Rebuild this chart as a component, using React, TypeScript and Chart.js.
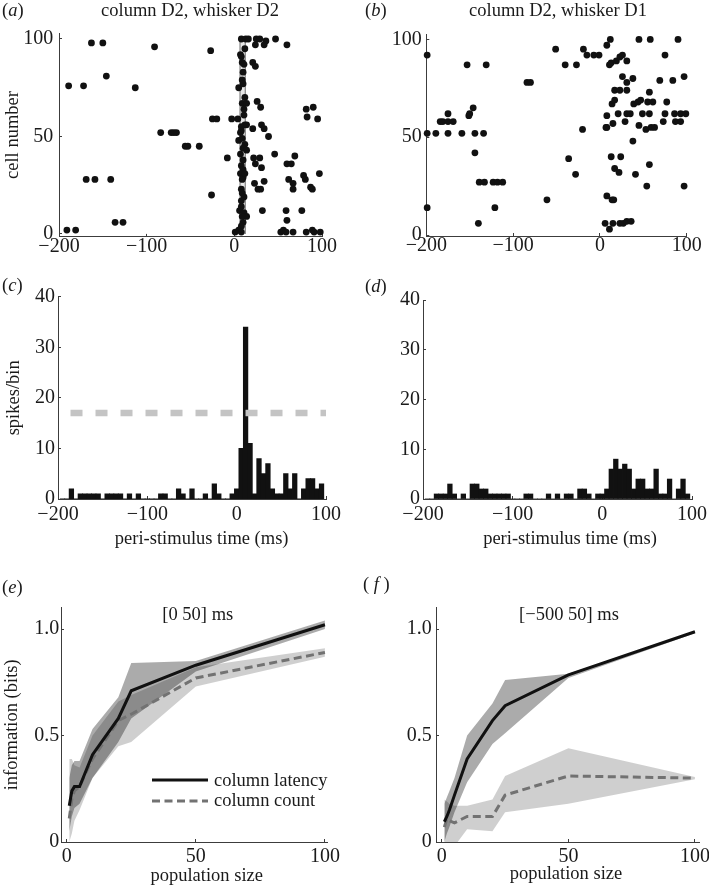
import React, { useEffect, useRef } from 'react';
import { Chart, registerables } from 'chart.js';

Chart.register(...registerables);

const FONT = "'Liberation Serif', 'Times New Roman', Times, serif";
const INK = '#1a1a1a';
const AXIS_COLOR = '#3c3c3c';

// ================= DATA =================
const TIME_TICKS = [-200, -100, 0, 100];
const TIME_TICK_LABELS = ['\u2212200', '\u2212100', '0', '100'];
const CELL_TICKS = [0, 50, 100];
const CELL_TICK_LABELS = ['0', '50', '100'];
const SPIKE_TICKS = [0, 10, 20, 30, 40];
const SPIKE_TICK_LABELS = ['0', '10', '20', '30', '40'];
const POP_TICKS = [0, 50, 100];
const POP_TICK_LABELS = ['0', '50', '100'];
const INFO_TICKS = [0, 0.5, 1.0];
const INFO_TICK_LABELS = ['0', '0.5', '1.0'];

// (a) raster, column D2 / whisker D2: first-spike time (ms) and cell number
const A_SPIKE_TIME = [
  -191, -181, -189, -172, -163, -150, -146, -169, -159, -141, -136, -127, -113, -91, -84, -72, -69, -66,
  -56, -53, -40, -27, -25, -20, -26, -8, -3, 1, 4, 8, 13, 16, 25, 29, 36, 47, 24, 34, 60, 7, 8, 9, 11,
  21, 24, 10, 9, 5, 12, 26, 30, 9, 14, 11, 12, 8, 14, 8, 21, 31, 34, 39, 7, 5, 12, 10, 14, 46, 7, 10, 8,
  22, 29, 24, 31, 10, 60, 65, 69, 7, 10, 9, 79, 81, 97, 62, 67, 34, 23, 27, 30, 67, 87, 89, 8, 9, 8, 8,
  32, 59, 77, 6, 11, 14, 10, 8, 5, 8, 53, 56, 59, 67, 82, 89, 91, 98, 60, 82, 90, 83, 95,
  12, 10, 11, 9, 12, 11, 9,
];
const A_SPIKE_CELL = [
  2, 2, 76, 76, 98, 98, 81, 28, 28, 28, 6, 6, 75, 96, 52, 52, 52, 52,
  45, 45, 45, 94, 59, 59, 20, 39, 59, 1, 59, 100, 100, 100, 100, 100, 99, 100, 97, 97, 97, 92, 91, 88, 87,
  88, 86, 83, 79, 75, 70, 68, 65, 67, 67, 61, 56, 55, 56, 53, 54, 56, 54, 50, 52, 48, 46, 44, 43, 41, 41, 38, 35,
  39, 39, 36, 34, 33, 36, 36, 40, 31, 29, 28, 30, 28, 31, 28, 26, 27, 26, 23, 23, 23, 24, 23, 23, 21, 17, 14,
  12, 12, 12, 12, 11, 9, 6, 4, 2, 1, 1, 2, 1, 1, 1, 2, 1, 1, 7, 64, 65, 60, 59,
  95, 77, 64, 49, 31, 19, 9,
];
// latency window marked on raster (a)
const A_WINDOW_TIME = [6.5, 6.5, 12.5, 12.5];
const A_WINDOW_CELL = [0, 100, 100, 0];

// (b) raster, column D2 / whisker D1
const B_SPIKE_TIME = [
  -199, -199, -199, -189, -184, -181, -175, -175, -175, -169, -159, -153, -151, -150, -146, -144, -144, -140,
  -139, -133, -134, -131, -123, -118, -112, -121, -84, -80, -61, -51, -40, -36, -27, -28, -19, -15, -7, -1, -20,
  12, 45, 58, 90, 8, 11, 13, 19, 23, 26, 31, 75, 26, 31, 38, 69, 84, 97, 17, 23, 31, 57, 14, 17, 39, 44, 47,
  55, 61, 77, 8, 21, 31, 35, 49, 57, 75, 86, 93, 99, 7, 8, 15, 29, 45, 53, 59, 63, 73, 87, 93, 38, 13, 24,
  17, 22, 57, 41, 54, 97, 8, 14, 16, 6, 11, 15, 23, 27, 31, 36,
];
const B_SPIKE_CELL = [
  92, 52, 14, 52, 58, 58, 62, 58, 52, 58, 52, 87, 61, 62, 65, 52, 42, 6,
  27, 27, 52, 87, 27, 27, 27, 14, 78, 78, 18, 95, 87, 39, 87, 31, 95, 92, 92, 92, 54,
  100, 100, 100, 100, 97, 87, 88, 89, 91, 92, 89, 92, 81, 78, 80, 79, 79, 81, 74, 74, 74, 73, 67, 69, 67, 68, 69,
  68, 68, 68, 61, 62, 62, 62, 62, 62, 62, 62, 62, 62, 55, 55, 57, 58, 56, 54, 55, 55, 58, 58, 58, 48, 40, 40,
  34, 32, 36, 31, 25, 25, 20, 18, 18, 6, 3, 6, 6, 6, 7, 7,
];

// (c), (d) peri-stimulus time histograms, 5 ms bins (bin centres in ms)
const PSTH_BIN_CENTRES = [
  -195, -190, -185, -180, -175, -170, -165, -160, -155, -150,
  -145, -140, -135, -130, -125, -120, -115, -110, -105, -100,
  -95, -90, -85, -80, -75, -70, -65, -60, -55, -50,
  -45, -40, -35, -30, -25, -20, -15, -10, -5, 0,
  5, 10, 15, 20, 25, 30, 35, 40, 45, 50,
  55, 60, 65, 70, 75, 80, 85, 90, 95,
];
const PSTH_C = [
  0, 0, 2, 0, 1, 1, 1, 1, 1, 0,
  1, 1, 1, 1, 0, 1, 0, 1, 0, 0,
  0, 0, 1, 1, 0, 0, 2, 1, 0, 2,
  0, 0, 1, 0, 3, 1, 0, 0, 1, 2,
  10, 34, 11, 1, 8, 5, 7, 2, 1, 1,
  5, 2, 5, 0, 2, 4, 4, 2, 3,
];
const PSTH_D = [
  0, 0, 1, 1, 1, 3, 1, 0, 1, 0,
  3, 3, 2, 2, 1, 1, 1, 1, 1, 0,
  0, 0, 1, 1, 0, 0, 0, 1, 0, 1,
  0, 1, 1, 0, 2, 2, 1, 0, 1, 1,
  2, 6, 8, 6, 7, 6, 2, 4, 4, 2,
  2, 6, 1, 1, 4, 0, 2, 4, 1,
];
const C_THRESHOLD = 17;
const C_THRESHOLD_SPAN = [-186, 100];

// (e), (f) information vs population size
const POP_SIZES = [1, 2, 3, 5, 10, 20, 25, 50, 100];
const E_LATENCY = [0.17, 0.24, 0.26, 0.26, 0.41, 0.58, 0.71, 0.83, 1.02];
const E_LATENCY_LO = [0.05, 0.12, 0.16, 0.18, 0.30, 0.47, 0.58, 0.80, 1.00];
const E_LATENCY_HI = [0.30, 0.36, 0.38, 0.38, 0.53, 0.68, 0.84, 0.85, 1.04];
const E_COUNT = [0.11, 0.20, 0.24, 0.26, 0.39, 0.57, 0.60, 0.77, 0.89];
const E_COUNT_LO = [0.00, 0.04, 0.10, 0.15, 0.30, 0.45, 0.47, 0.73, 0.87];
const E_COUNT_HI = [0.39, 0.39, 0.36, 0.35, 0.50, 0.66, 0.69, 0.82, 0.91];

const F_LATENCY = [0.095, 0.12, 0.15, 0.22, 0.39, 0.57, 0.64, 0.785, 0.987];
const F_LATENCY_LO = [0.00, 0.04, 0.07, 0.14, 0.28, 0.46, 0.51, 0.77, 0.98];
const F_LATENCY_HI = [0.18, 0.21, 0.24, 0.30, 0.50, 0.65, 0.76, 0.79, 0.99];
const F_COUNT = [0.07, 0.11, 0.10, 0.09, 0.12, 0.12, 0.22, 0.31, 0.30];
const F_COUNT_LO = [-0.02, -0.03, -0.04, -0.02, 0.06, 0.05, 0.14, 0.18, 0.295];
const F_COUNT_HI = [0.20, 0.19, 0.18, 0.17, 0.17, 0.20, 0.31, 0.44, 0.305];

// ================= HELPERS =================
type Pt = { x: number; y: number };
const zip = (xs: number[], ys: number[]): Pt[] => xs.map((x, i) => ({ x, y: ys[i] }));

const TICK_FONT = { family: FONT, size: 20, lineHeight: 1 };
const TITLE_FONT = { family: FONT, size: 18.5, lineHeight: 1.2 };
const LAT_BAND = 'rgba(0,0,0,0.33)';
const CNT_BAND = 'rgba(0,0,0,0.19)';
const CLEAR = 'rgba(0,0,0,0)';

function axisCommon(ticks: number[], labels: string[], pad: number) {
  return {
    type: 'linear',
    offset: false,
    afterBuildTicks: (ax: any) => {
      ax.ticks = ticks.map((v) => ({ value: v }));
    },
    ticks: {
      padding: pad,
      autoSkip: false,
      maxRotation: 0,
      minRotation: 0,
      font: TICK_FONT,
      color: INK,
      callback: (_v: any, i: number) => labels[i],
    },
    grid: {
      display: true,
      offset: false,
      drawOnChartArea: false,
      drawTicks: true,
      tickLength: -3,
      color: AXIS_COLOR,
      lineWidth: 1,
    },
    border: { display: true, color: AXIS_COLOR, width: 1 },
  };
}

function xAxis(o: { min: number; max: number; ticks: number[]; labels: string[]; height: number; pad: number }) {
  return {
    ...axisCommon(o.ticks, o.labels, o.pad),
    position: 'bottom',
    min: o.min,
    max: o.max,
    afterFit: (ax: any) => {
      ax.height = o.height;
    },
    title: { display: false },
  };
}

function yAxis(o: {
  min: number; max: number; ticks: number[]; labels: string[]; width: number; pad: number;
  title?: string; titlePad?: number;
}) {
  return {
    ...axisCommon(o.ticks, o.labels, o.pad),
    position: 'left',
    min: o.min,
    max: o.max,
    afterFit: (ax: any) => {
      ax.width = o.width;
    },
    title: o.title
      ? { display: true, text: o.title, font: TITLE_FONT, color: INK, padding: { top: o.titlePad || 0, bottom: 0 } }
      : { display: false },
  };
}

function baseOptions(padding: any, x: any, y: any) {
  return {
    responsive: false,
    maintainAspectRatio: false,
    animation: false,
    devicePixelRatio: 1,
    events: [],
    layout: { padding },
    plugins: { legend: { display: false }, title: { display: false }, tooltip: { enabled: false } },
    scales: { x, y },
  };
}

type Box = { left: number; top: number; width: number; height: number };

function ChartPanel({ box, config }: { box: Box; config: any }) {
  const ref = useRef<HTMLCanvasElement | null>(null);
  useEffect(() => {
    if (!ref.current) return;
    const chart = new Chart(ref.current, config);
    return () => chart.destroy();
  }, []);
  return (
    <canvas
      ref={ref}
      width={box.width}
      height={box.height}
      style={{ position: 'absolute', left: box.left, top: box.top, width: box.width, height: box.height }}
    />
  );
}

function Txt({ x, baseline, center, children }: { x: number; baseline: number; center?: boolean; children: any }) {
  const size = 18.5;
  return (
    <div
      style={{
        position: 'absolute',
        left: x,
        top: baseline - size * 0.8375,
        fontSize: size,
        lineHeight: `${size}px`,
        fontFamily: FONT,
        color: INK,
        whiteSpace: 'nowrap',
        transform: center ? 'translateX(-50%)' : undefined,
      }}
    >
      {children}
    </div>
  );
}

// ================= CHART CONFIGS =================
function rasterConfig(times: number[], cells: number[], extra: any[], geom: any) {
  return {
    type: 'scatter',
    data: {
      datasets: [
        {
          type: 'scatter',
          data: zip(times, cells),
          pointRadius: 3.4,
          pointBackgroundColor: '#111',
          pointBorderWidth: 0,
          borderWidth: 0,
          clip: false,
          order: 1,
        },
        ...extra,
      ],
    },
    options: baseOptions(
      geom.padding,
      xAxis({ min: -200, max: 100, ticks: TIME_TICKS, labels: TIME_TICK_LABELS, height: geom.xH, pad: geom.xPad }),
      yAxis({
        min: geom.yMin, max: geom.yMax, ticks: CELL_TICKS, labels: CELL_TICK_LABELS,
        width: geom.yW, pad: geom.yPad, title: geom.title, titlePad: geom.titlePad,
      })
    ),
  };
}

function psthConfig(values: number[], extra: any[], geom: any) {
  return {
    type: 'bar',
    data: {
      datasets: [
        ...extra,
        {
          type: 'bar',
          data: zip(PSTH_BIN_CENTRES, values),
          backgroundColor: '#111',
          borderWidth: 0,
          barPercentage: 1,
          categoryPercentage: 1,
          inflateAmount: 0.4,
          order: 2,
        },
      ],
    },
    options: baseOptions(
      geom.padding,
      xAxis({ min: -200, max: 100, ticks: TIME_TICKS, labels: TIME_TICK_LABELS, height: geom.xH, pad: geom.xPad }),
      yAxis({
        min: 0, max: 40, ticks: SPIKE_TICKS, labels: SPIKE_TICK_LABELS,
        width: geom.yW, pad: geom.yPad, title: geom.title, titlePad: geom.titlePad,
      })
    ),
  };
}

function infoConfig(lat: number[], latLo: number[], latHi: number[], cnt: number[], cntLo: number[], cntHi: number[], geom: any) {
  const band = (ys: number[], color: string | null) => ({
    data: zip(POP_SIZES, ys),
    borderColor: CLEAR,
    borderWidth: 0,
    pointRadius: 0,
    backgroundColor: color || CLEAR,
    fill: color ? '+1' : false,
  });
  return {
    type: 'line',
    data: {
      datasets: [
        { data: zip(POP_SIZES, lat), borderColor: '#111', borderWidth: 3, pointRadius: 0, fill: false, tension: 0 },
        {
          data: zip(POP_SIZES, cnt), borderColor: '#727272', borderWidth: 3, borderDash: [8, 4.5],
          pointRadius: 0, fill: false, tension: 0,
        },
        band(latHi, LAT_BAND),
        band(latLo, null),
        band(cntHi, CNT_BAND),
        band(cntLo, null),
      ],
    },
    options: baseOptions(
      geom.padding,
      xAxis({ min: geom.xMin, max: geom.xMax, ticks: POP_TICKS, labels: POP_TICK_LABELS, height: geom.xH, pad: geom.xPad }),
      yAxis({
        min: 0, max: 1.1, ticks: INFO_TICKS, labels: INFO_TICK_LABELS,
        width: geom.yW, pad: geom.yPad, title: geom.title, titlePad: geom.titlePad,
      })
    ),
  };
}

const BOX_A: Box = { left: 0, top: 0, width: 347, height: 262 };
const BOX_B: Box = { left: 360, top: 0, width: 349, height: 262 };
const BOX_C: Box = { left: 0, top: 270, width: 355, height: 262 };
const BOX_D: Box = { left: 360, top: 270, width: 370, height: 262 };
const BOX_E: Box = { left: 0, top: 560, width: 355, height: 312 };
const BOX_F: Box = { left: 360, top: 560, width: 370, height: 312 };

const configA = rasterConfig(
  A_SPIKE_TIME,
  A_SPIKE_CELL,
  [
    {
      type: 'line',
      data: zip(A_WINDOW_TIME, A_WINDOW_CELL),
      borderColor: '#8c8c8c',
      borderWidth: 1.3,
      backgroundColor: 'rgba(214,214,214,0.55)',
      fill: 'origin',
      pointRadius: 0,
      showLine: true,
      order: 2,
    },
  ],
  {
    padding: { left: 0, top: 33.15, right: 25, bottom: 0 },
    xH: 25.1, xPad: 2.6, yW: 59, yPad: 8.7, yMin: -1.5, yMax: 103,
    title: 'cell number', titlePad: 2.4,
  }
);

const configB = rasterConfig(B_SPIKE_TIME, B_SPIKE_CELL, [], {
  padding: { left: 0, top: 34.3, right: 22.3, bottom: 0 },
  xH: 26, xPad: 2.7, yW: 66.3, yPad: 7.6, yMin: -0.5, yMax: 102.6,
});

const configC = psthConfig(
  PSTH_C,
  [
    {
      type: 'line',
      data: zip(C_THRESHOLD_SPAN, [C_THRESHOLD, C_THRESHOLD]),
      borderColor: '#c4c4c4',
      borderWidth: 6.5,
      borderDash: [12, 13],
      borderCapStyle: 'butt',
      pointRadius: 0,
      fill: false,
      order: 1,
    },
  ],
  {
    padding: { left: 0, top: 26.7, right: 29, bottom: 0 },
    xH: 33, xPad: 9, yW: 58, yPad: 6, title: 'spikes/bin', titlePad: 2.9,
  }
);

const configD = psthConfig(PSTH_D, [], {
  padding: { left: 0, top: 30, right: 38, bottom: 0 },
  xH: 33, xPad: 9, yW: 63, yPad: 6,
});

const configE = infoConfig(E_LATENCY, E_LATENCY_LO, E_LATENCY_HI, E_COUNT, E_COUNT_LO, E_COUNT_HI, {
  padding: { left: 0, top: 47.7, right: 28, bottom: 0 },
  xMin: -2.2, xMax: 100.8, xH: 30, xPad: 7.7, yW: 61, yPad: 4.7,
  title: 'information (bits)', titlePad: 1.4,
});

const configF = infoConfig(F_LATENCY, F_LATENCY_LO, F_LATENCY_HI, F_COUNT, F_COUNT_LO, F_COUNT_HI, {
  padding: { left: 0, top: 47.7, right: 31, bottom: 0 },
  xMin: -2.3, xMax: 101.6, xH: 30, xPad: 7.7, yW: 76, yPad: 7.3,
});

const it = (s: string) => <span style={{ fontStyle: 'italic' }}>{s}</span>;

export default function App() {
  return (
    <div
      style={{
        position: 'absolute',
        left: 0,
        top: 0,
        width: 709,
        height: 887,
        overflow: 'hidden',
        background: '#ffffff',
        fontFamily: FONT,
      }}
    >
      <ChartPanel box={BOX_A} config={configA} />
      <ChartPanel box={BOX_B} config={configB} />
      <ChartPanel box={BOX_C} config={configC} />
      <ChartPanel box={BOX_D} config={configD} />
      <ChartPanel box={BOX_E} config={configE} />
      <ChartPanel box={BOX_F} config={configF} />

      <Txt x={2} baseline={16.7}>({it('a')})</Txt>
      <Txt x={190} baseline={16.7} center>column D2, whisker D2</Txt>
      <Txt x={365} baseline={16.7}>({it('b')})</Txt>
      <Txt x={558} baseline={16.7} center>column D2, whisker D1</Txt>

      <Txt x={2} baseline={291.7}>({it('c')})</Txt>
      <Txt x={365} baseline={292.7}>({it('d')})</Txt>
      <Txt x={201.7} baseline={544.3} center>peri-stimulus time (ms)</Txt>
      <Txt x={570} baseline={544} center>peri-stimulus time (ms)</Txt>

      <Txt x={2} baseline={593.4}>({it('e')})</Txt>
      <Txt x={363} baseline={590.7}>( {it('f')} )</Txt>
      <Txt x={197.8} baseline={620} center>[0 50] ms</Txt>
      <Txt x={569} baseline={620} center>[{'\u2212'}500 50] ms</Txt>
      <Txt x={206.7} baseline={881} center>population size</Txt>
      <Txt x={566} baseline={879.5} center>population size</Txt>

      <svg width={709} height={887} style={{ position: 'absolute', left: 0, top: 0, pointerEvents: 'none' }}>
        <line x1={152} y1={780} x2={208} y2={780} stroke="#111" strokeWidth={3} />
        <line x1={152} y1={801} x2={208} y2={801} stroke="#727272" strokeWidth={3} strokeDasharray="8 4.5" />
      </svg>
      <Txt x={214} baseline={786}>column latency</Txt>
      <Txt x={214} baseline={806.7}>column count</Txt>
    </div>
  );
}
